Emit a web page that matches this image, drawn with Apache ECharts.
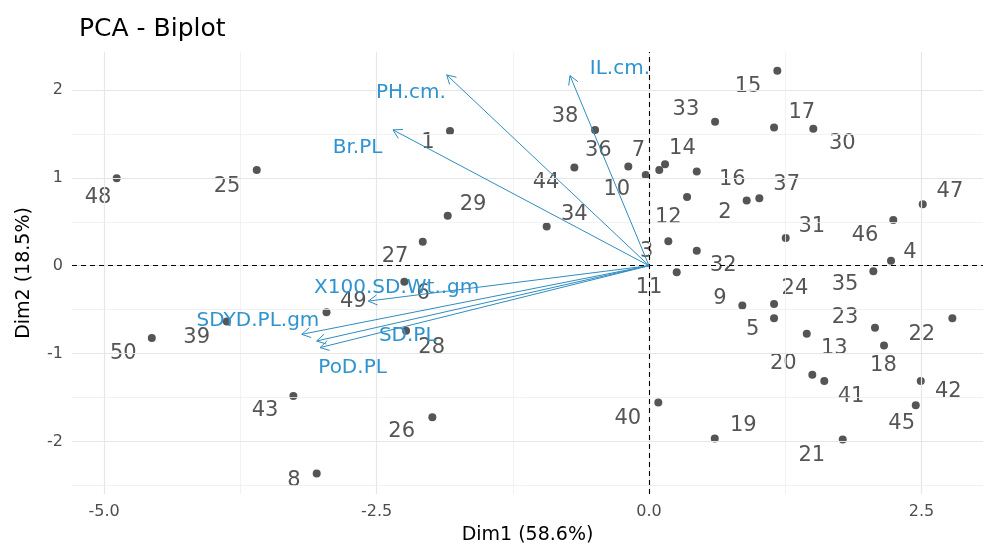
<!DOCTYPE html>
<html>
<head>
<meta charset="utf-8">
<script src="https://cdn.jsdelivr.net/npm/echarts@6/dist/echarts.min.js"></script>
<style>
    html, body { margin: 0; padding: 0; background: #fff; }
    #chart { width: 983px; height: 550px; }
</style>
</head>
<body>
<div id="chart"></div>
<script>
    // individuals (1..50): scores on Dim1 / Dim2
    const ids = ['1','2','3','4','5','6','7','8','9','10','11','12','13','14','15','16','17','18','19','20',
        '21','22','23','24','25','26','27','28','29','30','31','32','33','34','35','36','37','38','39','40',
        '41','42','43','44','45','46','47','48','49','50'];
    const dim1 = [-1.826, 0.896, 0.177, 2.220, 1.147, -2.245, -0.190, -3.049, 0.856, -0.030,
        0.254, 0.349, 1.447, 0.147, 1.177, 0.438, 1.147, 2.156, 0.603, 1.498,
        1.777, 2.783, 2.073, 1.147, -3.599, -1.988, -2.076, -2.229, -1.847, 1.507,
        1.254, 0.438, 0.606, -0.939, 2.058, 0.094, 1.012, -0.495, -3.874, 0.085,
        1.608, 2.493, -3.263, -0.685, 2.447, 2.241, 2.511, -4.884, -2.959, -4.562];
    const dim2 = [1.532, 0.742, 0.277, 0.057, -0.597, -0.182, 1.128, -2.364, -0.454, 1.033,
        -0.075, 0.783, -0.775, 1.154, 2.218, 1.072, 1.574, -0.908, -1.967, -1.241,
        -1.978, -0.597, -0.707, -0.435, 1.090, -1.725, 0.272, -0.741, 0.568, 1.560,
        0.314, 0.170, 1.639, 0.447, -0.064, 1.090, 0.768, 1.544, -0.636, -1.558,
        -1.312, -1.312, -1.482, 1.117, -1.589, 0.519, 0.700, 0.995, -0.531, -0.824];
    // where the (repelled) labels sit, in data units
    const labX = [-2.028, 0.697, -0.021, 2.394, 0.951, -2.073, -0.098, -3.257, 0.651, -0.296,
        0.000, 0.177, 1.700, 0.306, 0.908, 0.764, 1.401, 2.150, 0.865, 1.232,
        1.493, 2.502, 1.798, 1.339, -3.872, -2.269, -2.330, -1.994, -1.615, 1.773,
        1.493, 0.682, 0.339, -0.685, 1.798, -0.465, 1.263, -0.771, -4.150, -0.195,
        1.853, 2.746, -3.523, -0.945, 2.318, 1.982, 2.761, -5.055, -2.713, -4.823];
    const labY = [1.404, 0.606, 0.161, 0.152, -0.726, -0.321, 1.305, -2.440, -0.370, 0.863,
        -0.245, 0.549, -0.946, 1.333, 2.043, 0.984, 1.748, -1.135, -1.816, -1.116,
        -2.157, -0.787, -0.586, -0.257, 0.905, -1.891, 0.099, -0.926, 0.700, 1.389,
        0.443, -0.003, 1.779, 0.587, -0.219, 1.305, 0.927, 1.703, -0.813, -1.740,
        -1.494, -1.437, -1.653, 0.947, -1.797, 0.341, 0.840, 0.780, -0.409, -1.002];

    // variables: arrow tips and label centres
    const varNames = ['PH.cm.', 'Br.PL', 'IL.cm.', 'X100.SD.Wt..gm', 'SDYD.PL.gm', 'SD.PL', 'PoD.PL'];
    const varX = [-1.856, -2.349, -0.725, -2.575, -3.186, -3.049, -3.018];
    const varY = [2.171, 1.546, 2.163, -0.403, -0.781, -0.857, -0.932];
    const varLabX = [-2.185, -2.674, -0.267, -2.315, -3.588, -2.214, -2.720];
    const varLabY = [1.963, 1.342, 2.239, -0.253, -0.630, -0.800, -1.159];

    const xMajor = [-5, -2.5, 0, 2.5];
    const xMinor = [-3.75, -1.25, 1.25];
    const yMajor = [-2, -1, 0, 1, 2];
    const yMinor = [-2.5, -1.5, -0.5, 0.5, 1.5];

    const font = 'DejaVu Sans';
    const indColor = '#555555';
    const varColor = '#2e93cf';

    let gridLines = [];
    xMajor.forEach(v => gridLines.push({ xAxis: v, lineStyle: { color: '#e6e6e6', width: 1.2, type: 'solid' } }));
    xMinor.forEach(v => gridLines.push({ xAxis: v, lineStyle: { color: '#efefef', width: 0.8, type: 'solid' } }));
    yMajor.forEach(v => gridLines.push({ yAxis: v, lineStyle: { color: '#e6e6e6', width: 1.2, type: 'solid' } }));
    yMinor.forEach(v => gridLines.push({ yAxis: v, lineStyle: { color: '#efefef', width: 0.8, type: 'solid' } }));

    let points = [];
    let labels = [];
    for (let i = 0; i < ids.length; i++) {
        points.push({ name: ids[i], value: [dim1[i], dim2[i]] });
        labels.push({ name: ids[i], value: [labX[i], labY[i]] });
    }
    let arrows = [];
    let varLabels = [];
    for (let i = 0; i < varNames.length; i++) {
        arrows.push({ name: varNames[i], value: [0, 0, varX[i], varY[i]] });
        varLabels.push({ name: varNames[i], value: [varLabX[i], varLabY[i]] });
    }

    function renderArrow(params, api) {
        let p0 = api.coord([api.value(0), api.value(1)]);
        let p1 = api.coord([api.value(2), api.value(3)]);
        let ang = Math.atan2(p1[1] - p0[1], p1[0] - p0[0]);
        let len = 10, spread = Math.PI / 6;
        let h1 = [p1[0] - len * Math.cos(ang - spread), p1[1] - len * Math.sin(ang - spread)];
        let h2 = [p1[0] - len * Math.cos(ang + spread), p1[1] - len * Math.sin(ang + spread)];
        return {
            type: 'group',
            children: [
                { type: 'line', shape: { x1: p0[0], y1: p0[1], x2: p1[0], y2: p1[1] },
                  style: { stroke: '#2f8cbf', lineWidth: 1 } },
                { type: 'polyline', shape: { points: [h1, p1, h2] },
                  style: { stroke: '#2f8cbf', fill: null, lineWidth: 1 } }
            ]
        };
    }

    let chart = echarts.init(document.getElementById('chart'));
    let option = {
        animation: false,
        title: {
            text: 'PCA - Biplot',
            left: 74,
            top: 12,
            textStyle: { fontFamily: font, fontSize: 25, fontWeight: 'normal', color: '#000' }
        },
        grid: { left: 72, right: 0, top: 52, bottom: 55 },
        xAxis: {
            type: 'value',
            min: -5.294,
            max: 3.064,
            name: 'Dim1 (58.6%)',
            nameLocation: 'middle',
            nameGap: 32,
            nameTextStyle: { fontFamily: font, fontSize: 19, color: '#000' },
            axisLine: { show: false },
            splitLine: { show: false },
            axisTick: { show: true, customValues: xMajor, length: 4, lineStyle: { color: '#333' } },
            axisLabel: {
                customValues: xMajor,
                formatter: v => v.toFixed(1),
                fontFamily: font, fontSize: 16, color: '#4d4d4d', margin: 10
            }
        },
        yAxis: {
            type: 'value',
            min: -2.598,
            max: 2.432,
            name: 'Dim2 (18.5%)',
            nameLocation: 'middle',
            nameGap: 38,
            nameTextStyle: { fontFamily: font, fontSize: 19, color: '#000' },
            axisLine: { show: false },
            splitLine: { show: false },
            axisTick: { show: true, customValues: yMajor, length: 4, lineStyle: { color: '#333' } },
            axisLabel: {
                customValues: yMajor,
                formatter: v => String(Math.round(v)),
                fontFamily: font, fontSize: 16, color: '#4d4d4d', margin: 9
            }
        },
        series: [
            {
                type: 'line',
                data: [[0, 0]],
                showSymbol: false,
                silent: true,
                z: 1,
                markLine: { silent: true, symbol: ['none', 'none'], label: { show: false }, data: gridLines }
            },
            {
                type: 'line',
                data: [[0, 0]],
                showSymbol: false,
                silent: true,
                z: 2,
                markLine: {
                    silent: true, symbol: ['none', 'none'], label: { show: false },
                    lineStyle: { color: '#000', width: 1.1, type: [5, 4] },
                    data: [{ xAxis: 0 }, { yAxis: 0 }]
                }
            },
            {
                type: 'scatter',
                data: points,
                symbolSize: 8,
                itemStyle: { color: '#555555', opacity: 1 },
                z: 3
            },
            {
                type: 'scatter',
                data: labels,
                symbolSize: 0,
                itemStyle: { opacity: 1 },
                z: 4,
                label: {
                    show: true, position: 'inside', formatter: '{b}',
                    fontFamily: font, fontSize: 21, color: indColor
                }
            },
            {
                type: 'custom',
                data: arrows,
                renderItem: renderArrow,
                encode: { x: [0, 2], y: [1, 3] },
                z: 5
            },
            {
                type: 'scatter',
                data: varLabels,
                symbolSize: 0,
                itemStyle: { opacity: 1 },
                z: 6,
                label: {
                    show: true, position: 'inside', formatter: '{b}',
                    fontFamily: font, fontSize: 20, color: varColor
                }
            }
        ]
    };
    chart.setOption(option);
</script>
</body>
</html>
